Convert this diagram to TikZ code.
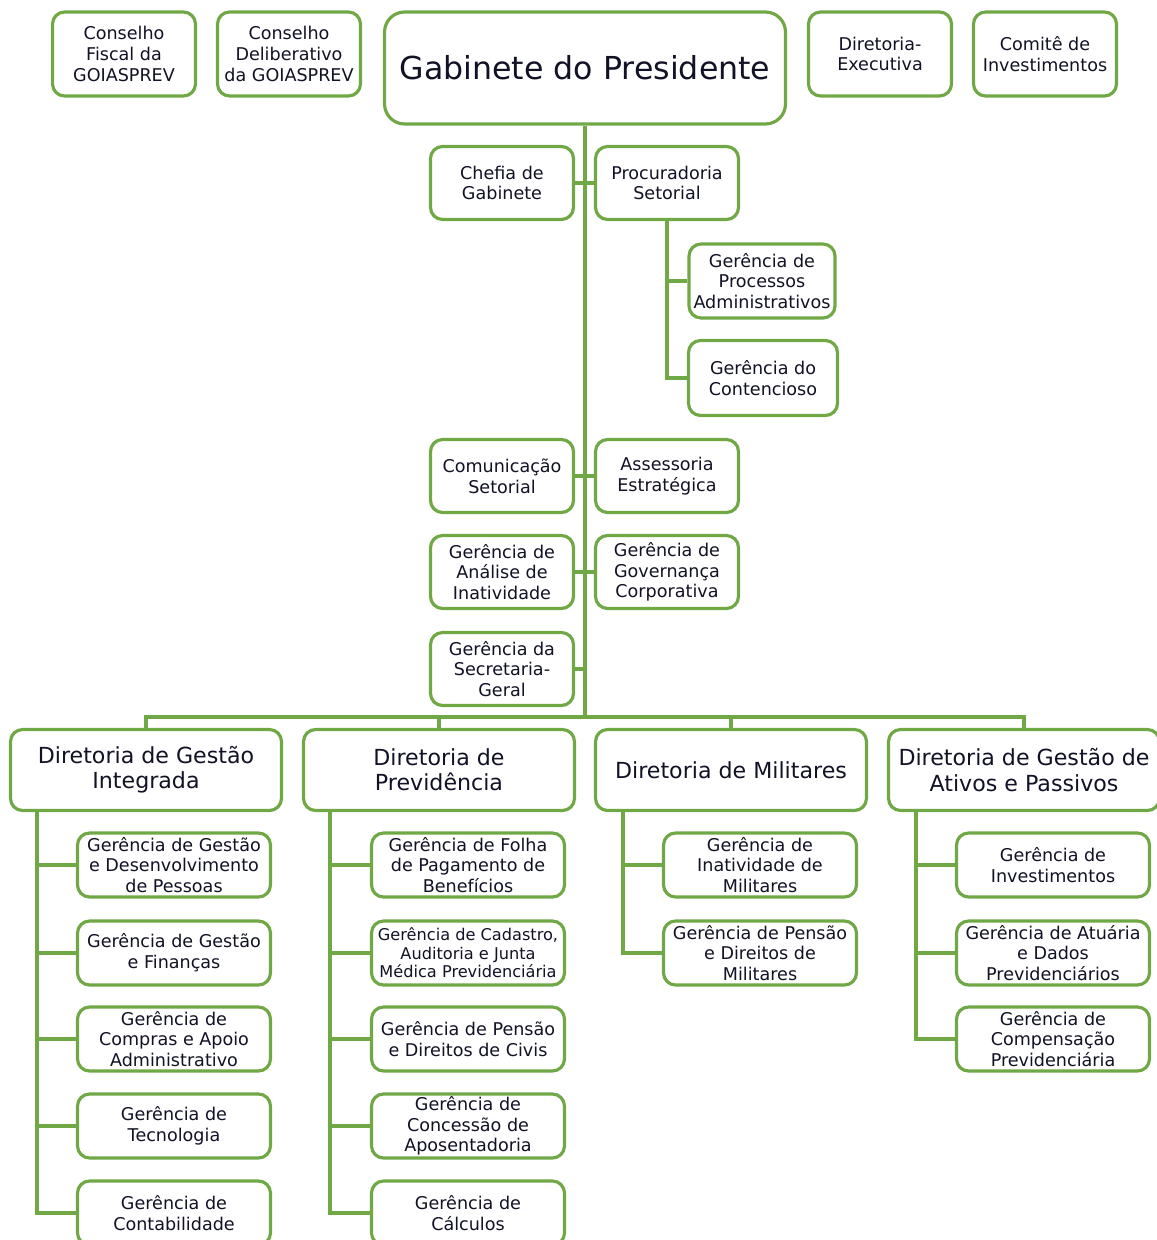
\documentclass[tikz,border=0pt]{standalone}
\usepackage{fontspec}
\setmainfont{DejaVu Sans}
\usepackage{xcolor}
\definecolor{boxgreen}{RGB}{112, 168, 70}
\definecolor{inknavy}{RGB}{18, 18, 38}
\usetikzlibrary{positioning}

\begin{document}
\begin{tikzpicture}[x=0.02cm, y=-0.02cm,
    every node/.style={text=inknavy},
    unit/.style={rectangle, draw=boxgreen, line width=1.8pt, fill=white, rounded corners=0.24cm, align=center, inner sep=1pt, font=\fontsize{10}{11.8}\selectfont, minimum width=2.86cm, minimum height=1.46cm},
    gerencia/.style={unit, minimum width=3.86cm, minimum height=1.28cm},
    diretoria/.style={unit, minimum width=5.42cm, minimum height=1.62cm, font=\fontsize{12.6}{14.4}\selectfont},
    link/.style={draw=boxgreen, line width=1.9pt}]
    \useasboundingbox (0,0) rectangle (1156,1240);

    % Top row
    \node[unit, minimum height=1.68cm] (cfis) at (124,54) {Conselho\\Fiscal da\\GOIASPREV};
    \node[unit, minimum height=1.68cm] (cdel) at (289,54) {Conselho\\Deliberativo\\da GOIASPREV};
    \node[unit, minimum width=8.02cm, minimum height=2.24cm, rounded corners=0.4cm, font=\fontsize{18}{21}\selectfont] (gab) at (585,68) {Gabinete do Presidente};
    \node[unit, minimum height=1.68cm] (dexe) at (880,54) {Diretoria-\\Executiva};
    \node[unit, minimum height=1.68cm] (comite) at (1045,54) {Comitê de\\Investimentos};

    % Units under the Gabinete
    \node[unit] (chefia) at (502,183) {Chefia de\\Gabinete};
    \node[unit] (procur) at (667,183) {Procuradoria\\Setorial};
    \node[unit, minimum width=2.92cm, minimum height=1.48cm] (gproc) at (762,281) {Gerência de\\Processos\\Administrativos};
    \node[unit, minimum width=2.98cm, minimum height=1.5cm] (gcont) at (763,378) {Gerência do\\Contencioso};
    \node[unit] (comun) at (502,476) {Comunicação\\Setorial};
    \node[unit] (assess) at (667,476) {Assessoria\\Estratégica};
    \node[unit] (ganal) at (502,572) {Gerência de\\Análise de\\Inatividade};
    \node[unit] (ggov) at (667,572) {Gerência de\\Governança\\Corporativa};
    \node[unit] (gsec) at (502,669) {Gerência da\\Secretaria-\\Geral};

    % Diretorias
    \coordinate (bus) at (585,717);
    \node[diretoria] (dgi) at (146,770) {Diretoria de Gestão\\Integrada};
    \node[diretoria] (dprev) at (439,770) {Diretoria de\\Previdência};
    \node[diretoria] (dmil) at (731,770) {Diretoria de Militares};
    \node[diretoria] (dgap) at (1024,770) {Diretoria de Gestão de\\Ativos e Passivos};

    % Gestao Integrada
    \node[gerencia] (gpes) at (174,865) {Gerência de Gestão\\e Desenvolvimento\\de Pessoas};
    \node[gerencia] (gfin) at (174,953) {Gerência de Gestão\\e Finanças};
    \node[gerencia] (gcomp) at (174,1039) {Gerência de\\Compras e Apoio\\Administrativo};
    \node[gerencia] (gtec) at (174,1126) {Gerência de\\Tecnologia};
    \node[gerencia] (gcontab) at (174,1213) {Gerência de\\Contabilidade};

    % Previdencia
    \node[gerencia] (gfolha) at (468,865) {Gerência de Folha\\de Pagamento de\\Benefícios};
    \node[gerencia, font=\fontsize{9.2}{10.6}\selectfont] (gcad) at (468,953) {Gerência de Cadastro,\\Auditoria e Junta\\Médica Previdenciária};
    \node[gerencia] (gpciv) at (468,1039) {Gerência de Pensão\\e Direitos de Civis};
    \node[gerencia] (gapos) at (468,1126) {Gerência de\\Concessão de\\Aposentadoria};
    \node[gerencia] (gcalc) at (468,1213) {Gerência de\\Cálculos};

    % Militares
    \node[gerencia] (ginat) at (760,865) {Gerência de\\Inatividade de\\Militares};
    \node[gerencia] (gpmil) at (760,953) {Gerência de Pensão\\e Direitos de\\Militares};

    % Ativos e Passivos
    \node[gerencia] (ginv) at (1053,865) {Gerência de\\Investimentos};
    \node[gerencia] (gatu) at (1053,953) {Gerência de Atuária\\e Dados\\Previdenciários};
    \node[gerencia] (gcomps) at (1053,1039) {Gerência de\\Compensação\\Previdenciária};

    % Trunk and branches
    \draw[link] (gab.south) -- (bus);
    \draw[link] (chefia.east) -- (procur.west);
    \draw[link] (procur.south) |- (gproc.west);
    \draw[link] (procur.south) |- (gcont.west);
    \draw[link] (comun.east) -- (assess.west);
    \draw[link] (ganal.east) -- (ggov.west);
    \draw[link] (gsec.east) -- (gsec.east -| bus);
    \draw[link] (bus) -| (dgi.north);
    \draw[link] (bus) -| (dprev.north);
    \draw[link] (bus) -| (dmil.north);
    \draw[link] (bus) -| (dgap.north);

    % Diretoria branches
    \coordinate (dgis) at (37,810);
    \coordinate (dprevs) at (330,810);
    \coordinate (dmils) at (623,810);
    \coordinate (dgaps) at (916,810);
    \draw[link] (dgis) |- (gpes.west);
    \draw[link] (dgis) |- (gfin.west);
    \draw[link] (dgis) |- (gcomp.west);
    \draw[link] (dgis) |- (gtec.west);
    \draw[link] (dgis) |- (gcontab.west);
    \draw[link] (dprevs) |- (gfolha.west);
    \draw[link] (dprevs) |- (gcad.west);
    \draw[link] (dprevs) |- (gpciv.west);
    \draw[link] (dprevs) |- (gapos.west);
    \draw[link] (dprevs) |- (gcalc.west);
    \draw[link] (dmils) |- (ginat.west);
    \draw[link] (dmils) |- (gpmil.west);
    \draw[link] (dgaps) |- (ginv.west);
    \draw[link] (dgaps) |- (gatu.west);
    \draw[link] (dgaps) |- (gcomps.west);
\end{tikzpicture}
\end{document}
